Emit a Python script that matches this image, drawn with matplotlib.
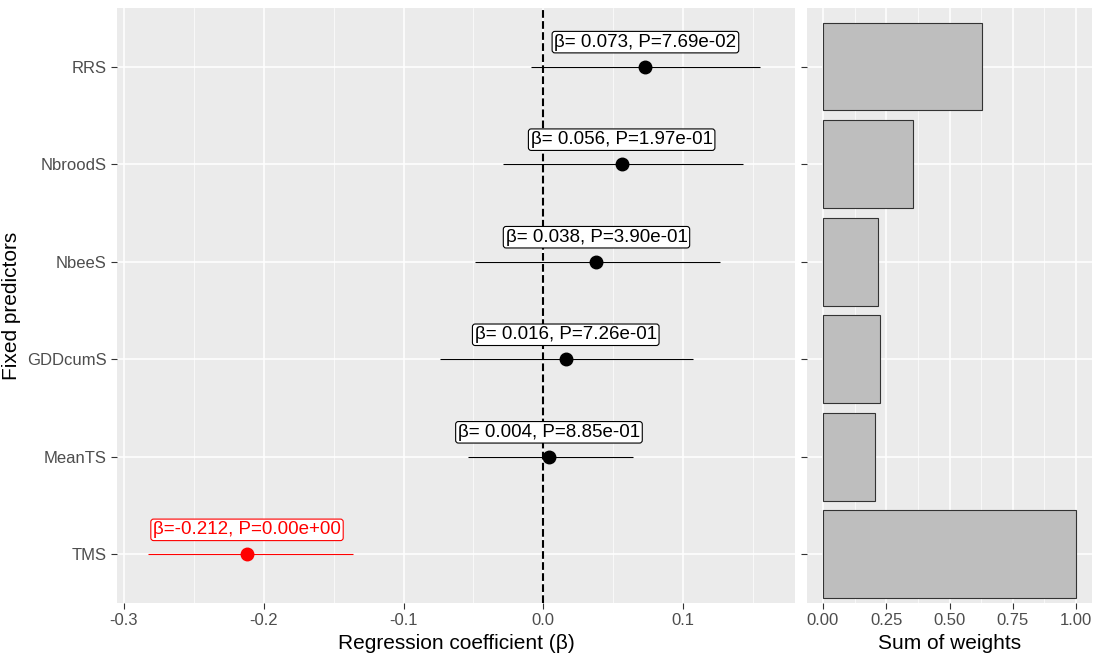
import matplotlib
matplotlib.use("Agg")
import matplotlib.pyplot as plt

preds = ["RRS", "NbroodS", "NbeeS", "GDDcumS", "MeanTS", "TMS"]
beta = [0.073, 0.056, 0.038, 0.016, 0.004, -0.212]
pvals = ["7.69e-02", "1.97e-01", "3.90e-01", "7.26e-01", "8.85e-01", "0.00e+00"]
lo = [-0.0086, -0.029, -0.049, -0.074, -0.054, -0.283]
hi = [0.155, 0.143, 0.126, 0.107, 0.064, -0.136]
weights = [0.628, 0.356, 0.217, 0.225, 0.206, 1.0]
sig = [False, False, False, False, False, True]

plt.rcParams['font.family'] = ['Liberation Sans', 'DejaVu Sans']
fig = plt.figure(figsize=(10.94, 6.61), dpi=100)
bg = "#EBEBEB"
ax = fig.add_axes([117/1094, 1-603/661, 678/1094, 595/661])
ax2 = fig.add_axes([807/1094, 1-603/661, 285/1094, 595/661])
ys = list(range(len(preds), 0, -1))

for a in (ax, ax2):
    a.set_facecolor(bg)
    for s in a.spines.values():
        s.set_visible(False)
    a.tick_params(colors="#4D4D4D", labelsize=12, length=4, color="#333333")
    a.set_ylim(0.5, 6.6)
    a.set_yticks(ys)

ax.set_xlim(-0.305, 0.18)
ax.set_xticks([-0.3, -0.2, -0.1, 0, 0.1])
ax.set_xticklabels(["-0.3", "-0.2", "-0.1", "0.0", "0.1"])
ax.set_xticks([-0.25, -0.15, -0.05, 0.05, 0.15], minor=True)
ax.grid(True, which="major", color="white", lw=1.1)
ax.grid(True, which="minor", color="white", lw=0.5)
ax.tick_params(which="minor", length=0)
ax.set_axisbelow(True)
ax.set_yticklabels(preds)
ax.axvline(0, color="black", ls="--", lw=1.5)
for y, b, p, l, h, s in zip(ys, beta, pvals, lo, hi, sig):
    c = "red" if s else "black"
    ax.hlines(y, l, h, color=c, lw=0.8)
    ax.plot(b, y, "o", color=c, ms=9)
    ax.text(b, y + 0.25, f"β={' ' if b >= 0 else ''}{b:.3f}, P={p}", ha="center", va="center",
            fontsize=13.5, color=c,
            bbox=dict(boxstyle="round,pad=0.12,rounding_size=0.15", fc="white", ec=c, lw=0.8))
ax.set_xlabel("Regression coefficient (β)", fontsize=15)
ax.set_ylabel("Fixed predictors", fontsize=15)

ax2.set_xlim(-0.063, 1.063)
ax2.set_xticks([0, 0.25, 0.5, 0.75, 1.0])
ax2.set_xticklabels(["0.00", "0.25", "0.50", "0.75", "1.00"])
ax2.set_xticks([0.125, 0.375, 0.625, 0.875], minor=True)
ax2.grid(True, which="major", color="white", lw=1.1)
ax2.grid(True, which="minor", color="white", lw=0.5)
ax2.tick_params(which="minor", length=0)
ax2.set_axisbelow(True)
ax2.set_yticklabels([])
ax2.barh(ys, weights, height=0.9, color="#BEBEBE", edgecolor="#333333", lw=0.8)
ax2.set_xlabel("Sum of weights", fontsize=15)

fig.savefig("out.png", dpi=100)
